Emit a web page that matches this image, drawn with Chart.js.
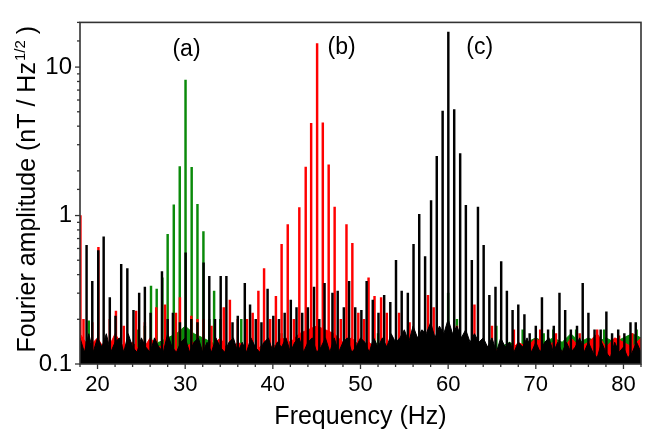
<!DOCTYPE html>
<html><head><meta charset="utf-8">
<script src="https://cdn.jsdelivr.net/npm/chart.js@4.4.0/dist/chart.umd.min.js"></script>
<style>html,body{margin:0;padding:0;background:#fff}#wrap{width:649px;height:432px;position:relative}</style>
</head><body><div id="wrap"><canvas id="c" width="649" height="432"></canvas></div>
<script>
// ---- data ----
const freqRange = [18, 82];
const ampRange = [0.1, 20];
const xTitle = 'Frequency (Hz)';
const yTitleMain = 'Fourier amplitude (nT / Hz';
const yTitleSup = '1/2';
const yTitleEnd = ' )';
const peakLabels = ['(a)', '(b)', '(c)'];

// (c) black series: spectral lines
const blackPeakFreq = [18.75,19.4,20.08,20.7,21.4,22.05,22.7,23.4,24.1,24.75,25.4,26.05,27.35,28.0,28.6,29.4,30.05,30.7,31.4,32.1,32.75,33.4,34.05,34.7,35.4,36.0,36.8,37.4,38.05,38.7,39.4,40.05,40.7,41.35,42.05,42.7,43.35,44.0,44.7,45.3,45.9,46.8,47.4,48.1,48.7,49.4,50.1,50.7,51.4,52.05,52.7,53.4,54.05,54.7,55.4,56.05,56.7,57.37,58.05,58.7,59.37,60.02,60.69,61.37,62.02,62.7,63.4,64.05,64.7,65.4,66.05,66.7,67.35,68.0,68.7,69.3,70.0,70.7,71.4,72.05,72.7,73.35,74.0,74.7,75.35,76.0,76.7,77.4,78.05,78.7,79.4,80.1,80.8,81.4];
const blackPeakAmp = [0.63,0.36,0.58,0.72,0.28,0.21,0.47,0.44,0.23,0.30,0.33,0.22,0.42,0.20,0.22,0.19,0.56,0.20,0.19,0.48,0.39,0.20,0.39,0.39,0.19,0.21,0.35,0.25,0.20,0.19,0.32,0.21,0.20,0.22,0.27,0.24,0.22,0.24,0.33,0.20,0.35,0.30,0.31,0.24,0.36,0.24,0.23,0.36,0.27,0.22,0.29,0.26,0.50,0.31,0.30,0.64,1.02,0.53,1.26,2.51,5.05,17.2,5.18,2.61,1.17,0.50,1.14,0.63,0.29,0.33,0.49,0.31,0.23,0.25,0.215,0.16,0.18,0.28,0.17,0.18,0.30,0.23,0.17,0.18,0.35,0.22,0.17,0.17,0.225,0.16,0.17,0.16,0.19,0.19];
// (b) red series
const redPeakFreq = [18.05,18.4,19.4,20.1,21.4,22.1,23.0,24.4,25.4,26.7,27.7,28.95,29.4,30.7,31.4,32.1,33.0,34.4,35.1,36.0,37.05,37.7,38.35,39.0,39.7,40.35,41.0,41.7,42.4,43.02,43.75,44.37,45.05,45.7,46.37,47.05,47.75,48.4,49.07,49.75,50.4,50.92,51.6,52.35,53.0,54.4,55.6,57.7,58.35,61.0,63.0,65.0,67.5,70.5,72.3,75.0,77.0,79.5,81.0];
const redPeakAmp = [1.0,0.2,0.19,0.61,0.2,0.227,0.18,0.227,0.19,0.24,0.25,0.22,0.28,0.21,0.2,0.2,0.18,0.24,0.27,0.2,0.2,0.22,0.31,0.44,0.2,0.286,0.64,0.87,0.2,1.13,2.12,4.18,14.4,4.22,2.2,1.14,0.2,0.87,0.65,0.22,0.2,0.38,0.286,0.28,0.22,0.22,0.19,0.29,0.24,0.18,0.25,0.18,0.17,0.17,0.16,0.16,0.17,0.155,0.16];
// (a) green series
const greenPeakFreq = [19.0,24.5,25.4,26.1,26.75,27.4,28.0,28.7,29.38,30.04,30.74,31.4,32.08,32.75,33.3,34.0,36.4,37.0,41.0,46.0,52.0,56.0,60.0,61.0,65.5,68.5,70.9,72.0,74.6,77.8,81.5];
const greenPeakAmp = [0.195,0.17,0.18,0.335,0.32,0.38,0.746,1.18,2.14,8.16,2.11,1.19,0.78,0.2,0.31,0.2,0.2,0.17,0.16,0.16,0.16,0.17,0.3,0.2,0.18,0.17,0.16,0.17,0.17,0.17,0.17];

// noise floors (black every 0.5 Hz from 18 Hz, red/green every 1 Hz from 18 Hz)
const blackFloorStart = 18, blackFloorStep = 0.5;
const blackFloor = [0.15,0.12,0.16,0.12,0.15,0.13,0.16,0.12,0.14,0.15,0.12,0.16,0.13,0.12,0.15,0.13,0.12,0.15,0.13,0.12,0.16,0.13,0.12,0.14,0.15,
  0.12,0.14,0.15,0.12,0.14,0.12,0.15,0.13,0.12,0.14,0.15,0.12,0.14,0.12,0.15,0.13,0.12,0.14,0.15,0.12,0.14,0.13,0.15,0.12,
  0.14,0.15,0.12,0.14,0.15,0.12,0.13,0.15,0.12,0.15,0.12,0.14,0.15,0.12,0.13,0.15,0.14,0.12,0.15,0.13,0.15,0.13,0.16,0.14,
  0.15,0.17,0.14,0.18,0.15,0.17,0.16,0.19,0.15,0.18,0.16,0.2,0.16,0.18,0.15,0.17,0.14,0.16,0.14,0.15,
  0.13,0.15,0.12,0.15,0.13,0.14,0.12,0.14,0.13,0.15,0.12,0.14,0.12,0.14,0.15,0.12,0.14,0.12,0.14,0.12,0.13,0.15,0.12,0.14,0.12,0.11,0.14,0.12,0.11,0.14,0.12,0.13,0.11,0.12,0.14,0.12];
const colorFloorStart = 18, colorFloorStep = 1;
const redFloor = [0.16,0.13,0.15,0.12,0.16,0.13,0.14,0.12,0.15,0.13,0.14,0.12,0.13,
  0.14,0.12,0.13,0.15,0.12,0.14,0.13,0.12,0.14,0.13,0.15,0.14,0.16,
  0.17,0.18,0.17,0.16,0.14,0.15,0.13,0.14,0.12,0.13,0.12,0.13,0.12,
  0.13,0.12,0.13,0.12,0.12,0.13,0.12,0.14,0.12,0.13,0.12,0.14,0.13,
  0.15,0.13,0.14,0.12,0.15,0.13,0.14,0.16,0.13,0.15,0.14,0.13,0.15];
const greenFloor = [0.12,0.13,0.12,0.11,0.12,0.13,0.12,0.13,0.14,0.14,0.15,0.16,0.18,
  0.16,0.15,0.14,0.13,0.12,0.13,0.12,0.11,0.12,0.12,0.11,0.12,0.11,
  0.12,0.11,0.12,0.11,0.12,0.12,0.11,0.12,0.11,0.12,0.12,0.11,0.12,
  0.12,0.13,0.14,0.16,0.15,0.13,0.12,0.13,0.12,0.13,0.14,0.13,0.14,
  0.15,0.14,0.15,0.14,0.16,0.14,0.15,0.14,0.15,0.14,0.15,0.16,0.15];

// annotation anchors in data units (frequency, amplitude)
const peakLabelFreq = [30.15, 47.85, 63.6];
const peakLabelAmp = [13.2, 13.6, 13.6];

// ---- build ----
const pts = (fs, as) => fs.map((f, i) => ({x: f, y: as[i]}));
const floorPts = (start, step, arr) => arr.map((v, i) => ({x: start + i * step, y: v}));

const COL = {black: '#000000', red: '#ff0000', green: '#0a8a0a'};
const FONT = '"Liberation Sans", Arial, sans-serif';

function spikeSet(label, data, color, order) {
  return {type: 'bar', label, data, backgroundColor: color, borderWidth: 0,
    barThickness: 1.8, stack: 'spec', order};
}
function floorSet(label, data, color, order) {
  return {type: 'line', label, data, borderColor: color, backgroundColor: color,
    borderWidth: 1, pointRadius: 0, tension: 0, fill: 'start', order};
}

const isDecade = v => { const l = Math.log10(v); return Math.abs(l - Math.round(l)) < 1e-6; };

const decor = {
  id: 'decor',
  afterDraw(chart) {
    const {ctx, chartArea: a, scales: {x, y}} = chart;
    ctx.save();
    ctx.strokeStyle = '#333';
    ctx.lineWidth = 1.6;
    ctx.strokeRect(a.left, a.top, a.right - a.left, a.bottom - a.top);
    ctx.lineWidth = 1.3;
    x.ticks.forEach(t => {
      const px = x.getPixelForValue(t.value);
      const len = Math.abs(t.value % 10) < 1e-9 ? 5 : 3;
      ctx.beginPath(); ctx.moveTo(px, a.bottom); ctx.lineTo(px, a.bottom + len); ctx.stroke();
    });
    y.ticks.forEach(t => {
      const py = y.getPixelForValue(t.value);
      const len = isDecade(t.value) ? 5 : 3;
      ctx.beginPath(); ctx.moveTo(a.left, py); ctx.lineTo(a.left - len, py); ctx.stroke();
    });
    ctx.fillStyle = '#000';
    // x title
    ctx.font = '25px ' + FONT;
    ctx.textAlign = 'center'; ctx.textBaseline = 'alphabetic';
    ctx.fillText(xTitle, (a.left + a.right) / 2, 424);
    // y title with superscript
    ctx.save();
    ctx.translate(35, (a.top + a.bottom) / 2 - 4);
    ctx.rotate(-Math.PI / 2);
    ctx.textAlign = 'left';
    ctx.font = '25px ' + FONT;
    const w1 = ctx.measureText(yTitleMain).width;
    const w3 = ctx.measureText(yTitleEnd).width;
    ctx.font = '15px ' + FONT;
    const w2 = ctx.measureText(yTitleSup).width;
    let s = -(w1 + w2 + w3) / 2;
    ctx.font = '25px ' + FONT;
    ctx.fillText(yTitleMain, s, 0);
    ctx.font = '15px ' + FONT;
    ctx.fillText(yTitleSup, s + w1 + 1, -10);
    ctx.font = '25px ' + FONT;
    ctx.fillText(yTitleEnd, s + w1 + w2, 0);
    ctx.restore();
    // peak labels
    ctx.font = '23px ' + FONT;
    ctx.textAlign = 'center'; ctx.textBaseline = 'middle';
    peakLabels.forEach((t, i) => {
      ctx.fillText(t, x.getPixelForValue(peakLabelFreq[i]), y.getPixelForValue(peakLabelAmp[i]));
    });
    ctx.restore();
  }
};

new Chart(document.getElementById('c'), {
  type: 'bar',
  data: {
    datasets: [
      spikeSet('(c) lines', pts(blackPeakFreq, blackPeakAmp), COL.black, 0),
      floorSet('(c) floor', floorPts(blackFloorStart, blackFloorStep, blackFloor), COL.black, 1),
      spikeSet('(b) lines', pts(redPeakFreq, redPeakAmp), COL.red, 2),
      floorSet('(b) floor', floorPts(colorFloorStart, colorFloorStep, redFloor), COL.red, 3),
      spikeSet('(a) lines', pts(greenPeakFreq, greenPeakAmp), COL.green, 4),
      floorSet('(a) floor', floorPts(colorFloorStart, colorFloorStep, greenFloor), COL.green, 5)
    ]
  },
  options: {
    responsive: false, animation: false,
    layout: {padding: {top: 7, right: 5, left: 0, bottom: 0}},
    plugins: {legend: {display: false}, tooltip: {enabled: false}, title: {display: false}},
    scales: {
      x: {
        type: 'linear', min: freqRange[0], max: freqRange[1], offset: false,
        grid: {display: false, drawTicks: false}, border: {display: false},
        ticks: {stepSize: 2, autoSkip: false, maxRotation: 0, padding: 8, color: '#000',
          font: {family: FONT, size: 22},
          callback: v => (Math.abs(v % 10) < 1e-9 ? String(v) : '')},
        afterFit: s => { s.height = 68; }
      },
      y: {
        type: 'logarithmic', min: ampRange[0], max: ampRange[1], stacked: false,
        grid: {display: false, drawTicks: false}, border: {display: false},
        ticks: {autoSkip: false, padding: 8, color: '#000',
          font: {family: FONT, size: 24},
          callback: v => (isDecade(v) ? String(+v.toPrecision(3)) : '')},
        afterFit: s => { s.width = 80; }
      }
    }
  },
  plugins: [decor]
});
</script></body></html>
